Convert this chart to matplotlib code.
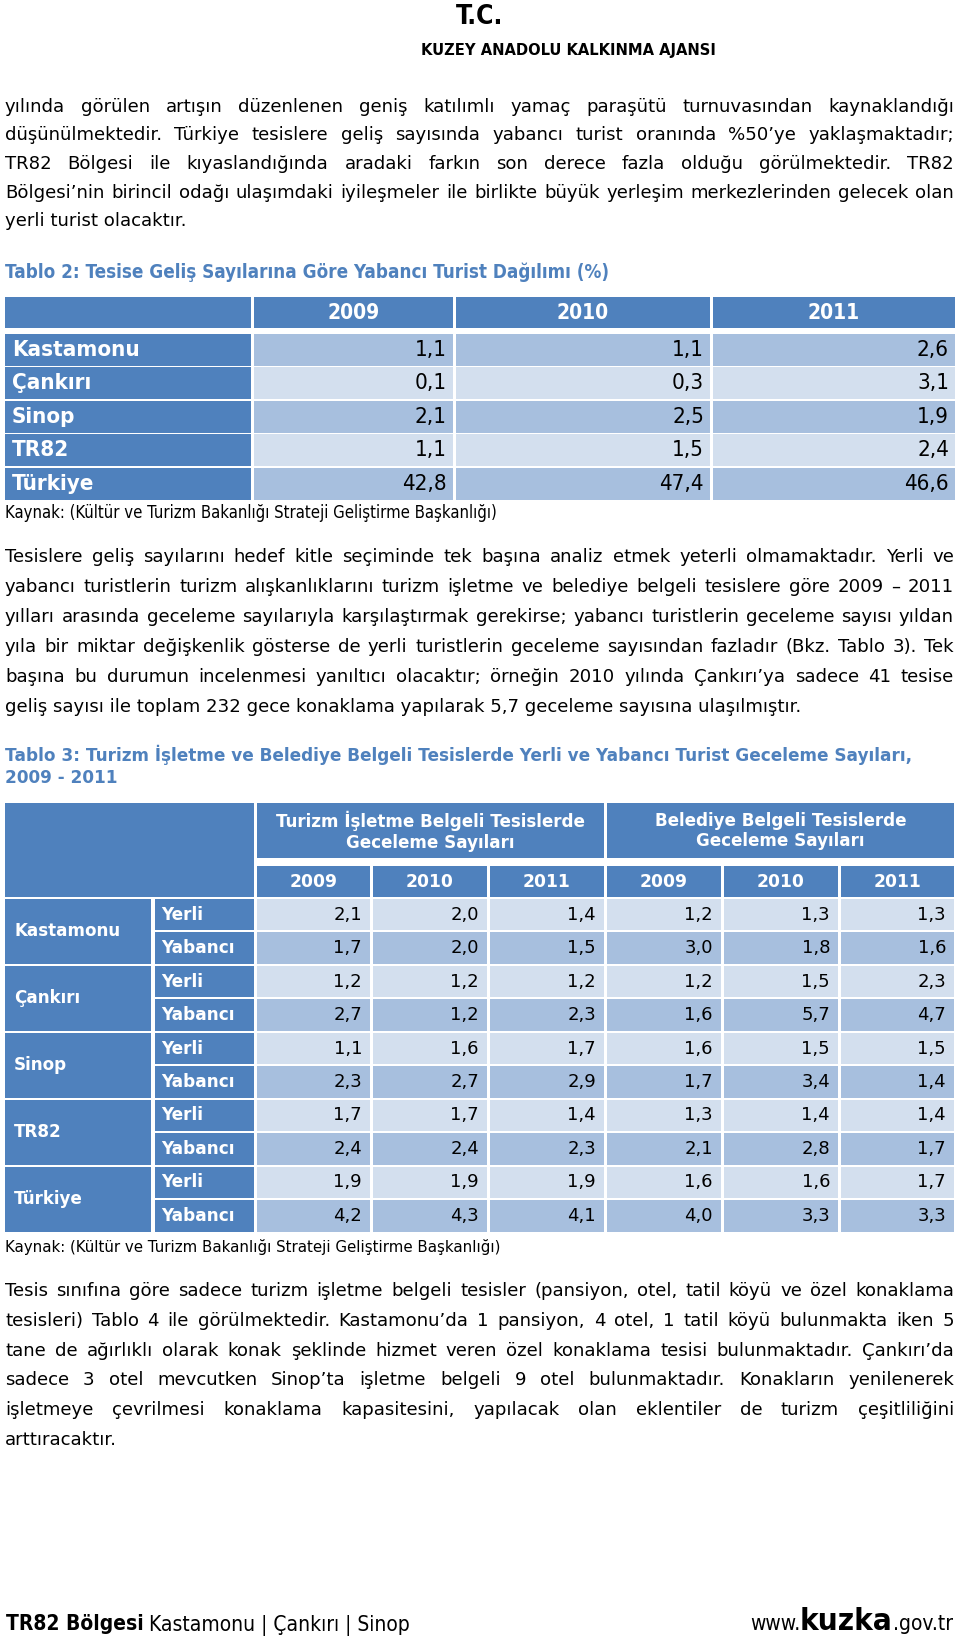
import matplotlib
matplotlib.use('Agg')
import matplotlib.pyplot as plt
from matplotlib.patches import Rectangle
from matplotlib import font_manager as fm

# ---- text content ----
header_top = "T.C."
header_name = "KUZEY ANADOLU KALKINMA AJANSI"

par1 = ["yılında görülen artışın düzenlenen geniş katılımlı yamaç paraşütü turnuvasından kaynaklandığı",
        "düşünülmektedir. Türkiye tesislere geliş sayısında yabancı turist oranında %50’ye yaklaşmaktadır;",
        "TR82 Bölgesi ile kıyaslandığında aradaki farkın son derece fazla olduğu görülmektedir. TR82",
        "Bölgesi’nin birincil odağı ulaşımdaki iyileşmeler ile birlikte büyük yerleşim merkezlerinden gelecek olan",
        "yerli turist olacaktır."]

par2 = ["Tesislere geliş sayılarını hedef kitle seçiminde tek başına analiz etmek yeterli olmamaktadır. Yerli ve",
        "yabancı turistlerin turizm alışkanlıklarını turizm işletme ve belediye belgeli tesislere göre 2009 – 2011",
        "yılları arasında geceleme sayılarıyla karşılaştırmak gerekirse; yabancı turistlerin geceleme sayısı yıldan",
        "yıla bir miktar değişkenlik gösterse de yerli turistlerin geceleme sayısından fazladır (Bkz. Tablo 3). Tek",
        "başına bu durumun incelenmesi yanıltıcı olacaktır; örneğin 2010 yılında Çankırı’ya sadece 41 tesise",
        "geliş sayısı ile toplam 232 gece konaklama yapılarak 5,7 geceleme sayısına ulaşılmıştır."]

par3 = ["Tesis sınıfına göre sadece turizm işletme belgeli tesisler (pansiyon, otel, tatil köyü ve özel konaklama",
        "tesisleri) Tablo 4 ile görülmektedir. Kastamonu’da 1 pansiyon, 4 otel, 1 tatil köyü bulunmakta iken 5",
        "tane de ağırlıklı olarak konak şeklinde hizmet veren özel konaklama tesisi bulunmaktadır. Çankırı’da",
        "sadece 3 otel mevcutken Sinop’ta işletme belgeli 9 otel bulunmaktadır. Konakların yenilenerek",
        "işletmeye çevrilmesi konaklama kapasitesini, yapılacak olan eklentiler de turizm çeşitliliğini",
        "arttıracaktır."]

title2 = "Tablo 2: Tesise Geliş Sayılarına Göre Yabancı Turist Dağılımı (%)"
title3 = ["Tablo 3: Turizm İşletme ve Belediye Belgeli Tesislerde Yerli ve Yabancı Turist Geceleme Sayıları,",
          "2009 - 2011"]
source = "Kaynak: (Kültür ve Turizm Bakanlığı Strateji Geliştirme Başkanlığı)"

# ---- table data ----
years = ["2009", "2010", "2011"]
regions = ["Kastamonu", "Çankırı", "Sinop", "TR82", "Türkiye"]
t2_2009 = [1.1, 0.1, 2.1, 1.1, 42.8]
t2_2010 = [1.1, 0.3, 2.5, 1.5, 47.4]
t2_2011 = [2.6, 3.1, 1.9, 2.4, 46.6]

groups = ["Turizm İşletme Belgeli Tesislerde\nGeceleme Sayıları",
          "Belediye Belgeli Tesislerde\nGeceleme Sayıları"]
kinds = ["Yerli", "Yabancı"]
# columns: isletme 2009, 2010, 2011, belediye 2009, 2010, 2011
t3_yerli = [[2.1, 2.0, 1.4, 1.2, 1.3, 1.3],
            [1.2, 1.2, 1.2, 1.2, 1.5, 2.3],
            [1.1, 1.6, 1.7, 1.6, 1.5, 1.5],
            [1.7, 1.7, 1.4, 1.3, 1.4, 1.4],
            [1.9, 1.9, 1.9, 1.6, 1.6, 1.7]]
t3_yabanci = [[1.7, 2.0, 1.5, 3.0, 1.8, 1.6],
              [2.7, 1.2, 2.3, 1.6, 5.7, 4.7],
              [2.3, 2.7, 2.9, 1.7, 3.4, 1.4],
              [2.4, 2.4, 2.3, 2.1, 2.8, 1.7],
              [4.2, 4.3, 4.1, 4.0, 3.3, 3.3]]

DARK = '#4F81BD'
MID = '#A7BFDE'
LIGHT = '#D3DFEE'


# look for a narrow / condensed sans face, else plain DejaVu Sans
def narrow_font(bold):
    best = None
    for f in fm.fontManager.ttflist:
        name = f.name.lower()
        st = str(f.stretch).lower()
        if 'mono' in name or ('serif' in name and 'sans' not in name):
            continue
        if 'condensed' in st or 'narrow' in name or 'condensed' in name:
            if 'italic' in f.style or 'oblique' in f.style:
                continue
            if 'semi' in st or 'extra' in st or 'ultra' in st:
                continue
            w = f.weight if isinstance(f.weight, int) else (700 if 'bold' in str(f.weight) else 400)
            if (w >= 600) == bold and (w <= 700 or not bold):
                if best is None or 'liberation' in name or 'dejavu' in name:
                    best = f
    if best is None:
        return fm.FontProperties(family='DejaVu Sans', weight='bold' if bold else 'normal'), False
    return fm.FontProperties(fname=best.fname), True


NB, found_narrow = narrow_font(True)
NR, _ = narrow_font(False)

W, H = 960, 1636
fig = plt.figure(figsize=(9.6, 16.36), dpi=100)
ax = fig.add_axes([0, 0, 1, 1])
ax.set_xlim(0, W)
ax.set_ylim(H, 0)
ax.axis('off')
r = fig.canvas.get_renderer()


def fmt(v):
    return f"{v:.1f}".replace('.', ',')


def box(x0, y0, x1, y1, c):
    ax.add_patch(Rectangle((x0, y0), x1 - x0, y1 - y0, color=c, lw=0))


def paragraph(lines, y0, dy, size=13.1, x0=5, x1=954):
    for i, line in enumerate(lines):
        y = y0 + i * dy
        if i == len(lines) - 1:
            ax.text(x0, y, line, fontsize=size, va='center')
            continue
        words = line.split(' ')
        ts = [ax.text(x0, y, w, fontsize=size, va='center') for w in words]
        ws = [t.get_window_extent(r).width for t in ts]
        gap = (x1 - x0 - sum(ws)) / (len(words) - 1)
        x = x0
        for t, w in zip(ts, ws):
            t.set_x(x)
            x += w + gap


def ntext(x, y, s, fp, size, **kw):
    t = ax.text(x, y, s, fontproperties=fp, **kw)
    t.set_fontsize(size)
    return t


def fit(t, width):
    # shrink a text until it is no wider than width
    while t.get_window_extent(r).width > width:
        t.set_fontsize(t.get_fontsize() - 0.25)


# header
ntext(480, 17, header_top, NB, 19, ha='center', va='center')
t = ntext(568, 50, header_name, NB, 18, ha='center', va='center')
fit(t, 300)

paragraph(par1, 107, 28.5)

# table 2
t = ntext(5, 272, title2, NB, 15, color=DARK, va='center')
fit(t, 614)
c2 = [(5, 251), (254, 453), (456, 710), (713, 955)]
box(c2[0][0], 297, c2[0][1], 328, DARK)
for (a, b), yr in zip(c2[1:], years):
    box(a, 297, b, 328, DARK)
    ntext((a + b) / 2, 313, yr, NB, 15, color='white', ha='center', va='center')
tops2 = [334, 367, 401, 434, 468]
cell_fs = 16 if found_narrow else 13.5
for i, reg in enumerate(regions):
    top = tops2[i]
    box(c2[0][0], top, c2[0][1], top + 32, DARK)
    ntext(12, top + 16, reg, NB, cell_fs, color='white', va='center')
    fill = MID if i % 2 == 0 else LIGHT
    for (a, b), vals in zip(c2[1:], [t2_2009, t2_2010, t2_2011]):
        box(a, top, b, top + 32, fill)
        ntext(b - 6, top + 16, fmt(vals[i]), NR, cell_fs, ha='right', va='center')
t = ntext(5, 513, source, NR, 13 if found_narrow else 10.8, va='center')
fit(t, 495)

paragraph(par2, 557, 30)

# table 3
ax.text(5, 755, title3[0], fontsize=12.2, fontweight='bold', color=DARK, va='center')
ax.text(5, 778, title3[1], fontsize=12.2, fontweight='bold', color=DARK, va='center')
box(5, 803, 254, 897, DARK)
c3 = [(257, 370), (373, 487), (490, 604), (607, 721), (724, 838), (841, 954)]
for g, (a, b) in enumerate([(257, 604), (607, 954)]):
    box(a, 803, b, 858, DARK)
    ax.text((a + b) / 2, 831, groups[g], fontsize=12.1, fontweight='bold', color='white',
            ha='center', va='center', linespacing=1.2)
for j, (a, b) in enumerate(c3):
    box(a, 866, b, 897, DARK)
    ax.text((a + b) / 2, 882, years[j % 3], fontsize=12.3, fontweight='bold', color='white', ha='center', va='center')
rh = 33.45
for i, reg in enumerate(regions):
    top = 899 + 2 * i * rh
    box(5, top, 151, top + 2 * rh - 2, DARK)
    ax.text(14, top + rh - 1, reg, fontsize=12.1, fontweight='bold', color='white', va='center')
    for k, vals in enumerate([t3_yerli[i], t3_yabanci[i]]):
        y0 = top + k * rh
        box(155, y0, 254, y0 + rh - 2, DARK)
        ax.text(161, y0 + rh / 2 - 1, kinds[k], fontsize=12.2, fontweight='bold', color='white', va='center')
        fill = LIGHT if k == 0 else MID
        for (a, b), v in zip(c3, vals):
            box(a, y0, b, y0 + rh - 2, fill)
            ax.text(b - 8, y0 + rh / 2 - 1, fmt(v), fontsize=13, ha='right', va='center')
ax.text(5, 1247, source, fontsize=10.8, va='center')

paragraph(par3, 1291, 29.8)

# footer
fy = 1630
foot_fs = 15 if found_narrow else 12
t1 = ntext(6, fy, "TR82 Bölgesi", NB, foot_fs, va='baseline')
w1 = t1.get_window_extent(r).width
ntext(6 + w1 + 5, fy, "Kastamonu | Çankırı | Sinop", NR, foot_fs, va='baseline')
parts = [("www.", NR, foot_fs), ("kuzka", NB, foot_fs * 1.5), (".gov.tr", NR, foot_fs)]
ts = [ntext(0, fy, s, fp, fs, va='baseline') for s, fp, fs in parts]
ws = [t.get_window_extent(r).width for t in ts]
x = 953 - sum(ws)
for t, w in zip(ts, ws):
    t.set_x(x)
    x += w

fig.savefig('out.png', dpi=100)
